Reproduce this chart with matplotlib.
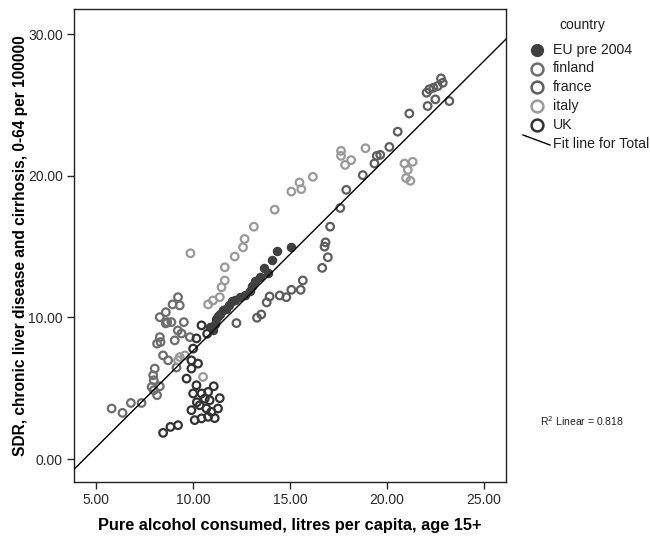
import matplotlib
matplotlib.use("Agg")
import matplotlib.pyplot as plt
from matplotlib.lines import Line2D
import numpy as np

plt.rcParams['font.family'] = ['Liberation Sans', 'DejaVu Sans']

# ---------------- data (alcohol litres per capita, SDR) ----------------
eu_x = [15.07, 14.33, 14.09, 13.66, 13.47, 13.06, 12.92, 12.66, 12.41, 12.15, 11.86, 11.55,
        11.38, 11.21, 11.12, 11.03, 10.86, 11.28, 11.69, 11.99, 13.18, 13.85]
eu_y = [15.00, 14.72, 14.06, 13.47, 12.89, 12.25, 11.90, 11.55, 11.43, 11.20, 10.85, 10.54,
        10.26, 9.91, 9.56, 9.08, 9.30, 10.07, 10.63, 11.13, 12.54, 13.17]

finland_x = [9.23, 8.95, 9.32, 8.29, 8.60, 8.67, 8.89, 8.60, 9.53, 9.22, 9.41, 9.84, 8.29, 8.15,
             8.33, 9.06, 8.46, 8.72, 9.15, 8.03, 7.95, 7.98, 7.87, 7.98, 8.29, 8.15, 5.81, 6.37,
             6.80, 7.35]
finland_y = [11.43, 10.92, 10.85, 10.02, 10.37, 9.67, 9.67, 9.58, 9.67, 9.08, 8.87, 8.61, 8.61, 8.15,
             8.26, 8.38, 7.32, 6.97, 6.46, 6.39, 5.92, 5.56, 5.09, 4.86, 5.14, 4.51, 3.57, 3.26,
             3.96, 3.96]

france_x = [15.55, 15.66, 16.66, 16.95, 16.78, 16.83, 17.07, 17.59, 17.90, 18.75, 19.35, 19.47,
            19.65, 20.12, 20.55, 21.15, 22.04, 22.09, 22.18, 22.39, 22.61, 22.78, 22.87, 22.49,
            23.21, 13.80, 13.30, 13.52, 12.24, 13.95, 14.47, 14.81, 15.07]
france_y = [11.95, 12.61, 13.50, 14.25, 15.00, 15.30, 16.41, 17.73, 19.01, 20.05, 20.87, 21.41,
            21.48, 22.04, 23.12, 24.40, 25.87, 24.93, 26.11, 26.22, 26.34, 26.88, 26.57, 25.40,
            25.28, 11.06, 9.98, 10.21, 9.60, 11.48, 11.55, 11.43, 11.95]

italy_x = [9.87, 13.14, 14.21, 15.07, 15.49, 15.58, 16.18, 17.63, 17.63, 18.15, 17.84, 18.89,
           20.90, 21.32, 21.07, 20.98, 21.20, 12.66, 12.58, 12.15, 11.64, 11.64, 11.47, 11.38,
           11.03, 10.78, 10.52, 9.32, 9.58, 9.23]
italy_y = [14.53, 16.41, 17.61, 18.89, 19.53, 19.06, 19.93, 21.76, 21.41, 21.11, 20.77, 21.95,
           20.87, 20.99, 20.42, 19.84, 19.65, 15.54, 14.95, 14.30, 13.54, 12.61, 12.13, 11.43,
           11.20, 10.92, 5.80, 7.20, 7.32, 6.97]

uk_x = [8.46, 8.84, 9.23, 10.18, 10.01, 10.44, 10.78, 10.61, 10.86, 9.92, 10.35, 10.69, 10.95,
        11.29, 10.09, 10.44, 10.78, 11.07, 11.38, 10.20, 11.12, 9.67, 9.92, 10.26, 10.01, 10.18,
        10.73, 9.92, 10.44]
uk_y = [1.85, 2.27, 2.39, 5.21, 4.63, 4.63, 4.74, 4.27, 4.15, 3.45, 3.80, 3.57, 3.33,
        3.57, 2.75, 2.87, 2.98, 5.14, 4.30, 4.01, 2.89, 5.68, 6.39, 6.74, 7.80, 8.52,
        8.85, 6.97, 9.44]

fit_slope = 1.365
fit_intercept = -6.01
r2_text = "R$^2$ Linear = 0.818"

x_ticks = [5, 10, 15, 20, 25]
y_ticks = [0, 10, 20, 30]

series = [
    ("EU pre 2004", eu_x, eu_y, "#404040", True),
    ("finland", finland_x, finland_y, "#6e6e6e", False),
    ("france", france_x, france_y, "#5e5e5e", False),
    ("italy", italy_x, italy_y, "#9a9a9a", False),
    ("UK", uk_x, uk_y, "#333333", False),
]

# ---------------- figure ----------------
fig = plt.figure(figsize=(6.5, 5.37), dpi=100)
ax = fig.add_axes([74/650, 1-481.7/537, (506-74)/650, (481.7-9.3)/537])

ax.set_xlim(3.87, 26.13)
ax.set_ylim(-1.6, 31.76)

for name, xs, ys, col, filled in series:
    if filled:
        ax.scatter(xs, ys, s=34, facecolors=col, edgecolors=col, linewidths=1.0, zorder=3)
    else:
        ax.scatter(xs, ys, s=30, facecolors='none', edgecolors=col, linewidths=1.6, zorder=3)

xl = np.array(ax.get_xlim())
ax.plot(xl, fit_slope * xl + fit_intercept, color='black', lw=1.0, zorder=4)
ax.set_xlim(3.87, 26.13)

ax.set_xticks(x_ticks)
ax.set_xticklabels([f"{v:.2f}" for v in x_ticks])
ax.set_yticks(y_ticks)
ax.set_yticklabels([f"{v:.2f}" for v in y_ticks])
ax.tick_params(direction='out', length=5, width=1, labelsize=10, colors='#2a2a2a', pad=3)
for sp in ax.spines.values():
    sp.set_linewidth(1.0)
    sp.set_color('#222222')

ax.set_xlabel("Pure alcohol consumed, litres per capita, age 15+", fontsize=11.8,
              fontweight='bold', labelpad=8)
ax.set_ylabel("SDR, chronic liver disease and cirrhosis, 0-64 per 100000", fontsize=11.2,
              fontweight='bold', labelpad=0)

# ---------------- legend (manual) ----------------
def fx(px):
    return px / 650

def fy(py):
    return 1 - py / 537

fig.text(fx(582), fy(25), "country", fontsize=10, ha='center', va='center', color='#222222')
leg_y = [50, 68.5, 87, 106, 125]
for (name, xs, ys, col, filled), py in zip(series, leg_y):
    if filled:
        fig.add_artist(Line2D([fx(537)], [fy(py)], marker='o', markersize=8.5, color=col,
                              markerfacecolor=col, markeredgecolor=col, linestyle='none'))
    else:
        fig.add_artist(Line2D([fx(537)], [fy(py)], marker='o', markersize=8.5, color=col,
                              markerfacecolor='none', markeredgecolor=col, markeredgewidth=1.8,
                              linestyle='none'))
    fig.text(fx(553), fy(py), name, fontsize=10.2, ha='left', va='center', color='#222222')

fig.add_artist(Line2D([fx(523), fx(550)], [fy(135), fy(145)], color='black', lw=1.0))
fig.text(fx(553), fy(144), "Fit line for Total", fontsize=10.2, ha='left', va='center',
         color='#222222')

fig.text(fx(540), fy(421), r2_text, fontsize=7.5, ha='left', va='center', color='#222222')

fig.savefig("out.png", dpi=100, facecolor='white')
